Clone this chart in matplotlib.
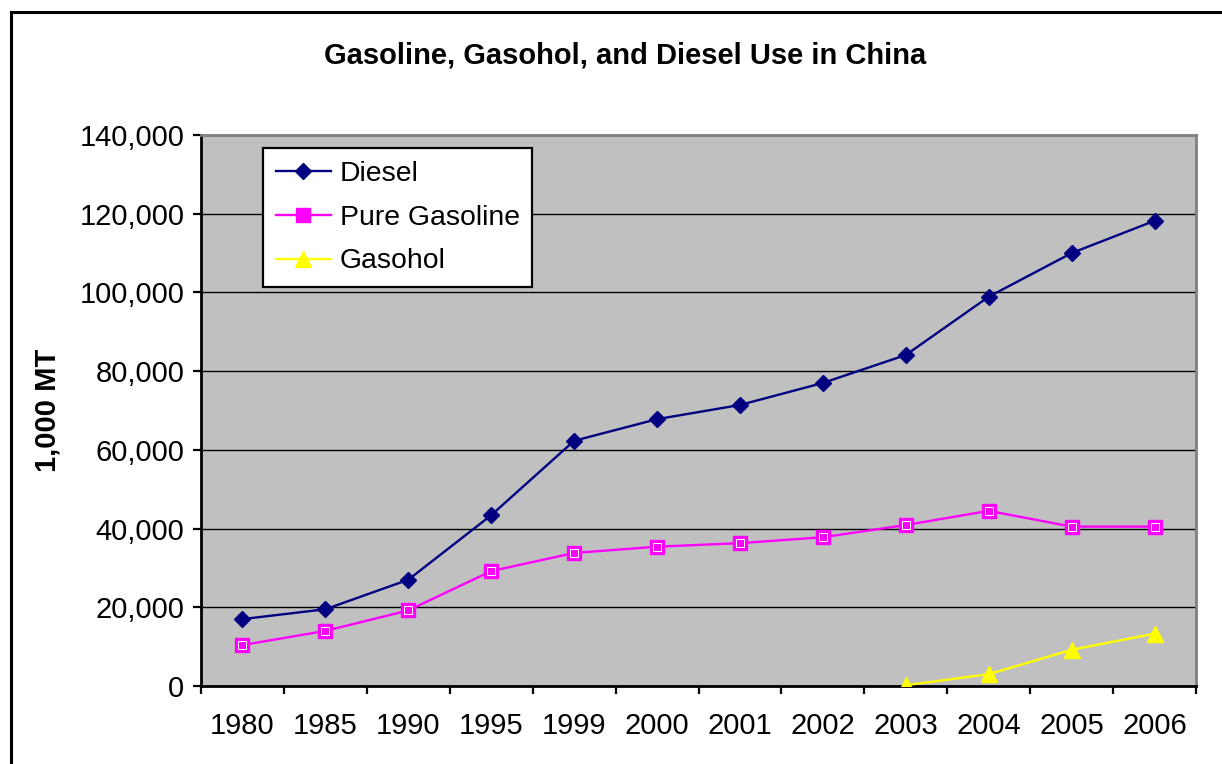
import numpy as np
import matplotlib
matplotlib.use('Agg')
import matplotlib.pyplot as plt
from matplotlib.ticker import FuncFormatter
from matplotlib.lines import Line2D

plt.rcParams['font.family'] = ['Liberation Sans', 'DejaVu Sans']

# data (1,000 MT)
years = ['1980', '1985', '1990', '1995', '1999', '2000', '2001', '2002', '2003', '2004', '2005', '2006']
diesel = [17000, 19500, 27000, 43400, 62300, 67800, 71400, 77000, 84100, 98900, 110000, 118200]
gasoline = [10400, 14000, 19200, 29200, 33800, 35400, 36300, 37800, 40900, 44500, 40500, 40500]
gasohol = [np.nan] * 8 + [200, 3000, 9200, 13300]

def comma_fmt(v, pos):
    return '{:,.0f}'.format(v)

def draw():
    W, H = 1222, 764
    fig = plt.figure(figsize=(W / 100, H / 100), dpi=100)
    fig.patch.set_facecolor('white')

    # chart area frame (only left and top edges show)
    fig.add_artist(Line2D([11 / W, 11 / W], [0, (H - 12) / H], color='black', lw=2.2))
    fig.add_artist(Line2D([11 / W, 1], [(H - 12) / H, (H - 12) / H], color='black', lw=2.2))

    left, right, top, bottom = 201, 1196, 135, 686
    ax = fig.add_axes([left / W, (H - bottom) / H, (right - left) / W, (bottom - top) / H])
    ax.set_facecolor('#C0C0C0')

    x = np.arange(len(years))
    ax.plot(x, diesel, color='#000080', lw=1.7, marker='D', ms=8.5,
            mfc='#000080', mec='#000080', label='Diesel', zorder=3)
    ax.plot(x, gasoline, color='#FF00FF', lw=1.7, marker='s', ms=9.5,
            mfc='#FF00FF', mec='#FF00FF', label='Pure Gasoline', zorder=3)
    # inner white outline of the Excel square marker
    ax.plot(x, gasoline, ls='none', marker='s', ms=6, mfc='#FF00FF', mec='white',
            mew=0.7, zorder=4)
    ax.plot(x, gasohol, color='#FFFF00', lw=1.7, marker='^', ms=11.5,
            mfc='#FFFF00', mec='#FFFF00', label='Gasohol', zorder=3)

    ax.set_xlim(-0.5, len(years) - 0.5)
    ax.set_ylim(0, 140000)
    ax.set_yticks(np.arange(0, 140001, 20000))
    ax.yaxis.set_major_formatter(FuncFormatter(comma_fmt))
    ax.yaxis.grid(True, color='black', lw=1.0)
    ax.set_axisbelow(True)

    # ticks at category boundaries, labels at centres
    ax.set_xticks(np.arange(-0.5, len(years), 1))
    ax.set_xticklabels([])
    ax.set_xticks(x, minor=True)
    ax.set_xticklabels(years, minor=True)
    ax.tick_params(axis='x', which='major', direction='out', length=6, width=1.6, color='black')
    ax.tick_params(axis='x', which='minor', length=0, pad=19, labelsize=21)
    ax.tick_params(axis='y', direction='out', length=6, width=1.6, pad=6, labelsize=21)

    for s in ['left', 'bottom']:
        ax.spines[s].set_color('black')
        ax.spines[s].set_linewidth(2)
    for s in ['top', 'right']:
        ax.spines[s].set_color('#808080')
        ax.spines[s].set_linewidth(2)

    leg = ax.legend(loc='upper left', bbox_to_anchor=((263 - left) / (right - left), (bottom - 148) / (bottom - top)),
                    fontsize=20.4, frameon=True, fancybox=False, framealpha=1, edgecolor='black',
                    borderaxespad=0, handlelength=1.95, labelspacing=0.63, borderpad=0.45,
                    handletextpad=0.3)
    leg.get_frame().set_linewidth(1.6)

    fig.text(625 / W, (H - 55) / H, 'Gasoline, Gasohol, and Diesel Use in China',
             ha='center', va='center', fontsize=21, fontweight='bold')
    fig.text(48 / W, (H - 410) / H, '1,000 MT', rotation=90, ha='center', va='center',
             fontsize=21, fontweight='bold')

    fig.savefig('out.png', dpi=100)

if __name__ == "__main__":
    draw()
